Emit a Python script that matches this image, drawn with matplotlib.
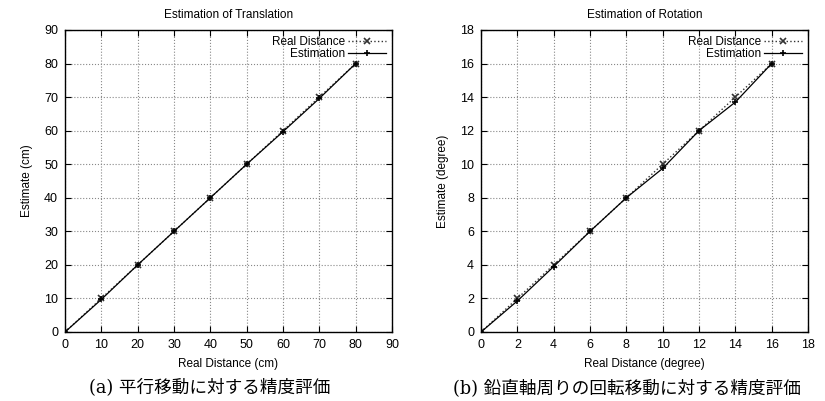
import matplotlib
matplotlib.use("Agg")
from matplotlib import pyplot as plt

plt.rcParams['font.family'] = ['Liberation Sans', 'DejaVu Sans']
plt.rcParams['font.size'] = 8.5

trans_real = [0, 10, 20, 30, 40, 50, 60, 70, 80]
trans_est = [0, 9.7, 20, 30, 40, 50, 59.7, 69.6, 80]
rot_real = [0, 2, 4, 6, 8, 10, 12, 14, 16]
rot_est = [0, 1.85, 3.9, 6, 8, 9.75, 12, 13.7, 16]

panels = [
    dict(x=trans_real, est=trans_est, lim=90, step=10,
         title='Estimation of Translation', xlabel='Real Distance (cm)',
         ylabel='Estimate (cm)', caption='(a) 平行移動に対する精度評価'),
    dict(x=rot_real, est=rot_est, lim=18, step=2,
         title='Estimation of Rotation', xlabel='Real Distance (degree)',
         ylabel='Estimate (degree)', caption='(b) 鉛直軸周りの回転移動に対する精度評価'),
]

fig = plt.figure(figsize=(8.25, 4.01), dpi=100)
rects = [[65/825, 69/401, 327/825, 302/401], [481/825, 69/401, 327/825, 302/401]]
caption_x = [210/825, 627/825]

for rect, cx, p in zip(rects, caption_x, panels):
    ax = fig.add_axes(rect)
    ax.plot(p['x'], p['x'], color='#333333', linestyle=':', linewidth=1.0,
            marker='x', markersize=4.5, markeredgewidth=1.2, label='Real Distance')
    ax.plot(p['x'], p['est'], color='black', linestyle='-', linewidth=0.9,
            marker='+', markersize=5, markeredgewidth=1.2, label='Estimation')
    ax.set_xlim(0, p['lim'])
    ax.set_ylim(0, p['lim'])
    ticks = list(range(0, p['lim'] + 1, p['step']))
    ax.set_xticks(ticks)
    ax.set_yticks(ticks)
    ax.tick_params(labelsize=9)
    ax.grid(True, color='#888888', linestyle=':', linewidth=0.8)
    ax.tick_params(direction='in', top=True, right=True, length=4, pad=5)
    for s in ax.spines.values():
        s.set_linewidth(1.0)
    ax.set_title(p['title'], fontsize=8.5, pad=9)
    ax.set_xlabel(p['xlabel'], fontsize=8.5, labelpad=5)
    ax.set_ylabel(p['ylabel'], fontsize=8.5, labelpad=8)
    ax.legend(loc='upper right', frameon=False, markerfirst=False,
              fontsize=8.5, handlelength=3.2, borderaxespad=0.1,
              labelspacing=0.05, handletextpad=0.3)
    fig.text(cx, 13/401, p['caption'],
             family=['DejaVu Serif', 'Noto Sans CJK JP'],
             fontsize=12.7, ha='center', va='center')

fig.savefig('out.png', dpi=100)
